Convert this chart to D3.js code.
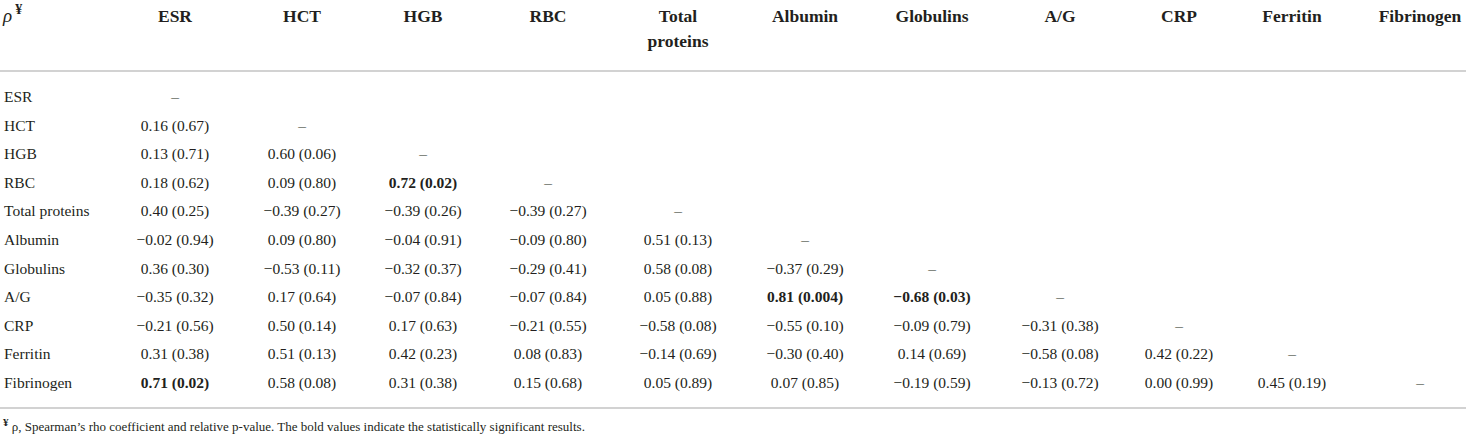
<!DOCTYPE html>
<html><head><meta charset="utf-8">
<script src="https://cdn.jsdelivr.net/npm/d3@7"></script>
<style>
html,body{margin:0;padding:0;background:#fff;}
svg text{font-family:"Liberation Serif","Times New Roman",serif;fill:#231f20;}
</style></head>
<body><svg id="chart" width="1468" height="438"></svg>
<script>
const variables = ["ESR","HCT","HGB","RBC","Total proteins","Albumin","Globulins","A/G","CRP","Ferritin","Fibrinogen"];
const headerLines = [["ESR"],["HCT"],["HGB"],["RBC"],["Total","proteins"],["Albumin"],["Globulins"],["A/G"],["CRP"],["Ferritin"],["Fibrinogen"]];
const rhoValues = [
  [],
  [0.16],
  [0.13, 0.60],
  [0.18, 0.09, 0.72],
  [0.40, -0.39, -0.39, -0.39],
  [-0.02, 0.09, -0.04, -0.09, 0.51],
  [0.36, -0.53, -0.32, -0.29, 0.58, -0.37],
  [-0.35, 0.17, -0.07, -0.07, 0.05, 0.81, -0.68],
  [-0.21, 0.50, 0.17, -0.21, -0.58, -0.55, -0.09, -0.31],
  [0.31, 0.51, 0.42, 0.08, -0.14, -0.30, 0.14, -0.58, 0.42],
  [0.71, 0.58, 0.31, 0.15, 0.05, 0.07, -0.19, -0.13, 0.00, 0.45]
];
const pValues = [
  [],
  ["0.67"],
  ["0.71","0.06"],
  ["0.62","0.80","0.02"],
  ["0.25","0.27","0.26","0.27"],
  ["0.94","0.80","0.91","0.80","0.13"],
  ["0.30","0.11","0.37","0.41","0.08","0.29"],
  ["0.32","0.64","0.84","0.84","0.88","0.004","0.03"],
  ["0.56","0.14","0.63","0.55","0.08","0.10","0.79","0.38"],
  ["0.38","0.13","0.23","0.83","0.69","0.40","0.69","0.08","0.22"],
  ["0.02","0.08","0.38","0.68","0.89","0.85","0.59","0.72","0.99","0.19"]
];
const footnote = "ρ, Spearman’s rho coefficient and relative p-value. The bold values indicate the statistically significant results.";

const svg = d3.select("#chart");

// column centres (layout)
const colX = d3.scaleOrdinal().domain(variables)
  .range([175,302,423,548,678,805,932,1060,1179,1292,1420]);
const rowY = d3.scalePoint().domain(variables).range([97,383]);

const fmt = v => {
  const s = d3.format(".2f")(Math.abs(v));
  return (v < 0 ? "\u2212" : "") + s;
};

// header corner
svg.append("text").attr("x",3).attr("y",22)
  .style("font-size","19px").style("font-style","italic").text("ρ")
  .append("tspan").attr("dx",3).attr("dy",-8).style("font-size","14px").style("font-style","normal").style("font-weight","bold").text("¥");

const hdr = svg.append("g").selectAll("text").data(variables).join("text")
  .attr("x", d => colX(d)).attr("y", 22)
  .attr("text-anchor","middle").style("font-size","17.5px").style("font-weight","bold");
hdr.each(function(d,i){
  d3.select(this).selectAll("tspan").data(headerLines[i]).join("tspan")
    .attr("x", colX(d)).attr("dy",(t,j)=> j===0?0:25).text(t=>t);
});

// rules
svg.append("line").attr("x1",0).attr("x2",1466).attr("y1",71).attr("y2",71)
  .attr("stroke","#d2d2d2").attr("stroke-width",2);
svg.append("line").attr("x1",0).attr("x2",1466).attr("y1",408).attr("y2",408)
  .attr("stroke","#d2d2d2").attr("stroke-width",2);

// row labels
svg.append("g").selectAll("text").data(variables).join("text")
  .attr("x",4).attr("y", d => rowY(d)+5).style("font-size","15.5px").text(d=>d);

// cells
const cells = [];
variables.forEach((r,i) => {
  rhoValues[i].forEach((v,j) => {
    cells.push({row:r, col:variables[j], rho:v, p:pValues[i][j], diag:false});
  });
  cells.push({row:r, col:r, diag:true});
});
svg.append("g").selectAll("text").data(cells).join("text")
  .attr("x", d => colX(d.col)).attr("y", d => rowY(d.row)+5)
  .attr("text-anchor","middle").style("font-size","15.5px")
  .style("font-weight", d => (!d.diag && +d.p < 0.05) ? "bold" : "normal")
  .text(d => d.diag ? "–" : `${fmt(d.rho)} (${d.p})`);

// footnote
const fn = svg.append("text").attr("x",3).attr("y",431).style("font-size","13px");
fn.append("tspan").attr("dy",-5).style("font-size","11px").style("font-weight","bold").text("¥");
fn.append("tspan").attr("dy",5).text(" " + footnote);
</script></body></html>
